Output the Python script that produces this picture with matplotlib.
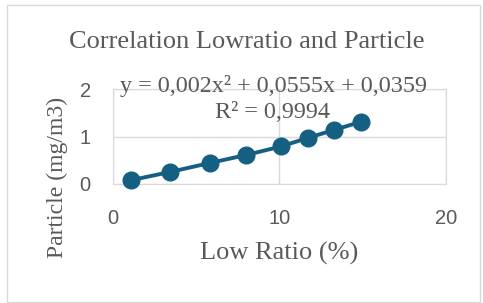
import matplotlib.pyplot as plt
from matplotlib.patches import Rectangle

# data
low_ratio = [1.1, 3.4, 5.8, 8.0, 10.1, 11.7, 13.3, 14.9]
particle = [0.08, 0.25, 0.44, 0.61, 0.79, 0.97, 1.14, 1.31]
x_ticks = [0, 10, 20]
y_ticks = [0, 1, 2]

title = 'Correlation Lowratio and Particle'
eq_text = 'y = 0,002x² + 0,0555x + 0,0359'
r2_text = 'R² = 0,9994'

serif = 'Liberation Serif'
sans = 'Liberation Sans'
grey = '#595959'
line_grey = '#d9d9d9'
blue = '#156082'

fig = plt.figure(figsize=(4.83, 3.03), dpi=100)
fig.patches.append(Rectangle((0.014, 0.004), 0.98, 0.978, transform=fig.transFigure,
                             fill=False, edgecolor=line_grey, linewidth=1))

ax = fig.add_axes([0.234, 0.393, 0.689, 0.313])
ax.plot(low_ratio, particle, color=blue, linewidth=2.8, marker='o', markersize=12, zorder=3,
        clip_on=False)

ax.set_xlim(0, 20)
ax.set_ylim(0, 2)
ax.set_xticks(x_ticks)
ax.set_yticks(y_ticks)
ax.grid(True, color=line_grey, linewidth=1)
ax.set_axisbelow(True)
for s in ax.spines.values():
    s.set_color(line_grey)
ax.tick_params(length=0, colors=grey, labelsize=14.5)
ax.tick_params(axis='x', pad=18)
ax.tick_params(axis='y', pad=16)
for lbl in ax.get_xticklabels() + ax.get_yticklabels():
    lbl.set_fontfamily(sans)

fig.text(0.511, 0.861, title, ha='center', va='center', fontsize=19, family=serif, color=grey)
fig.text(0.566, 0.717, eq_text, ha='center', va='center', fontsize=17.4, family=serif, color=grey)
fig.text(0.565, 0.63, r2_text, ha='center', va='center', fontsize=17.4, family=serif, color=grey)
fig.text(0.578, 0.162, 'Low Ratio (%)', ha='center', va='center', fontsize=19, family=serif, color=grey)
fig.text(0.118, 0.413, 'Particle (mg/m3)', ha='center', va='center', rotation=90,
         fontsize=17.1, family=serif, color=grey)

fig.savefig('out.png', dpi=100)
